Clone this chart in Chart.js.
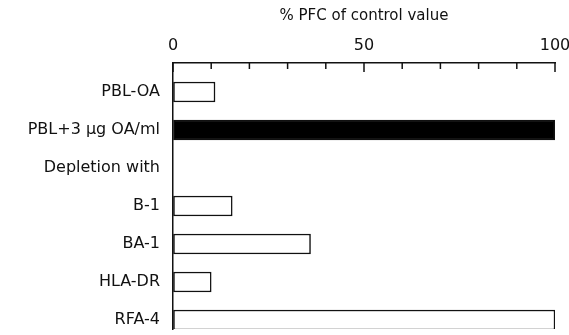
<!DOCTYPE html>
<html>
<head>
<meta charset="utf-8">
<script src="https://cdn.jsdelivr.net/npm/chart.js@4/dist/chart.umd.min.js"></script>
<style>
  html, body { margin: 0; padding: 0; background: #fff; }
  #wrap { width: 569px; height: 335px; }
</style>
</head>
<body>
<div id="wrap"><canvas id="chart"></canvas></div>
<script>
const categories = ['PBL-OA', 'PBL+3 \u03bcg OA/ml', 'Depletion with', 'B-1', 'BA-1', 'HLA-DR', 'RFA-4'];
const pfcValues = [11, 100, null, 15.5, 36, 10, 100];
const barFill = ['#fff', '#000', '#fff', '#fff', '#fff', '#fff', '#fff'];
const tickLabels = [0, 50, 100];
const minorTicks = [10, 20, 30, 40, 60, 70, 80, 90];

const ink = '#111';

// tick marks point down into the plot, as in the original figure
const inwardTicks = {
    id: 'inwardTicks',
    afterDraw(chart) {
        const x = chart.scales.x;
        const ctx = chart.ctx;
        const top = chart.chartArea.top;
        ctx.save();
        ctx.strokeStyle = ink;
        ctx.lineWidth = 1.5;
        const draw = (v, len) => {
            const px = x.getPixelForValue(v);
            ctx.beginPath();
            ctx.moveTo(px, top);
            ctx.lineTo(px, top + len);
            ctx.stroke();
        };
        minorTicks.forEach(v => draw(v, 6));
        tickLabels.forEach(v => draw(v, 9));
        ctx.restore();
    }
};

new Chart(document.getElementById('chart'), {
    type: 'bar',
    data: {
        datasets: [{
            data: pfcValues.map((v, i) => ({ x: v, y: i })),
            backgroundColor: barFill,
            borderColor: ink,
            borderWidth: 1.5,
            borderSkipped: false,
            barThickness: 20
        }]
    },
    options: {
        indexAxis: 'y',
        responsive: true,
        maintainAspectRatio: false,
        animation: false,
        layout: { padding: { top: 0, right: 14, bottom: 6, left: 0 } },
        plugins: {
            legend: { display: false },
            tooltip: { enabled: false }
        },
        scales: {
            x: {
                type: 'linear',
                position: 'top',
                min: 0,
                max: 100,
                afterFit: s => { s.height = 63; s.paddingLeft = 0; s.paddingRight = 0; },
                afterBuildTicks: s => { s.ticks = tickLabels.map(v => ({ value: v })); },
                grid: { drawOnChartArea: false, drawTicks: false },
                border: { display: true, color: ink, width: 1.5 },
                ticks: {
                    color: ink,
                    padding: 8,
                    maxRotation: 0,
                    font: { family: 'DejaVu Sans', size: 16 }
                },
                title: {
                    display: true,
                    text: '% PFC of control value',
                    color: ink,
                    padding: { top: 7, bottom: 0 },
                    font: { family: 'DejaVu Sans', size: 15 }
                }
            },
            y: {
                type: 'linear',
                reverse: true,
                offset: false,
                min: -0.763,
                max: 6.237,
                afterFit: s => { s.width = 173; s.paddingTop = 0; s.paddingBottom = 0; },
                afterBuildTicks: s => { s.ticks = categories.map((_, i) => ({ value: i })); },
                grid: { display: false, drawTicks: false },
                border: { display: true, color: ink, width: 1.5 },
                ticks: {
                    color: ink,
                    padding: 13,
                    callback: v => categories[v],
                    font: { family: 'DejaVu Sans', size: 16 }
                }
            }
        }
    },
    plugins: [inwardTicks]
});
</script>
</body>
</html>
